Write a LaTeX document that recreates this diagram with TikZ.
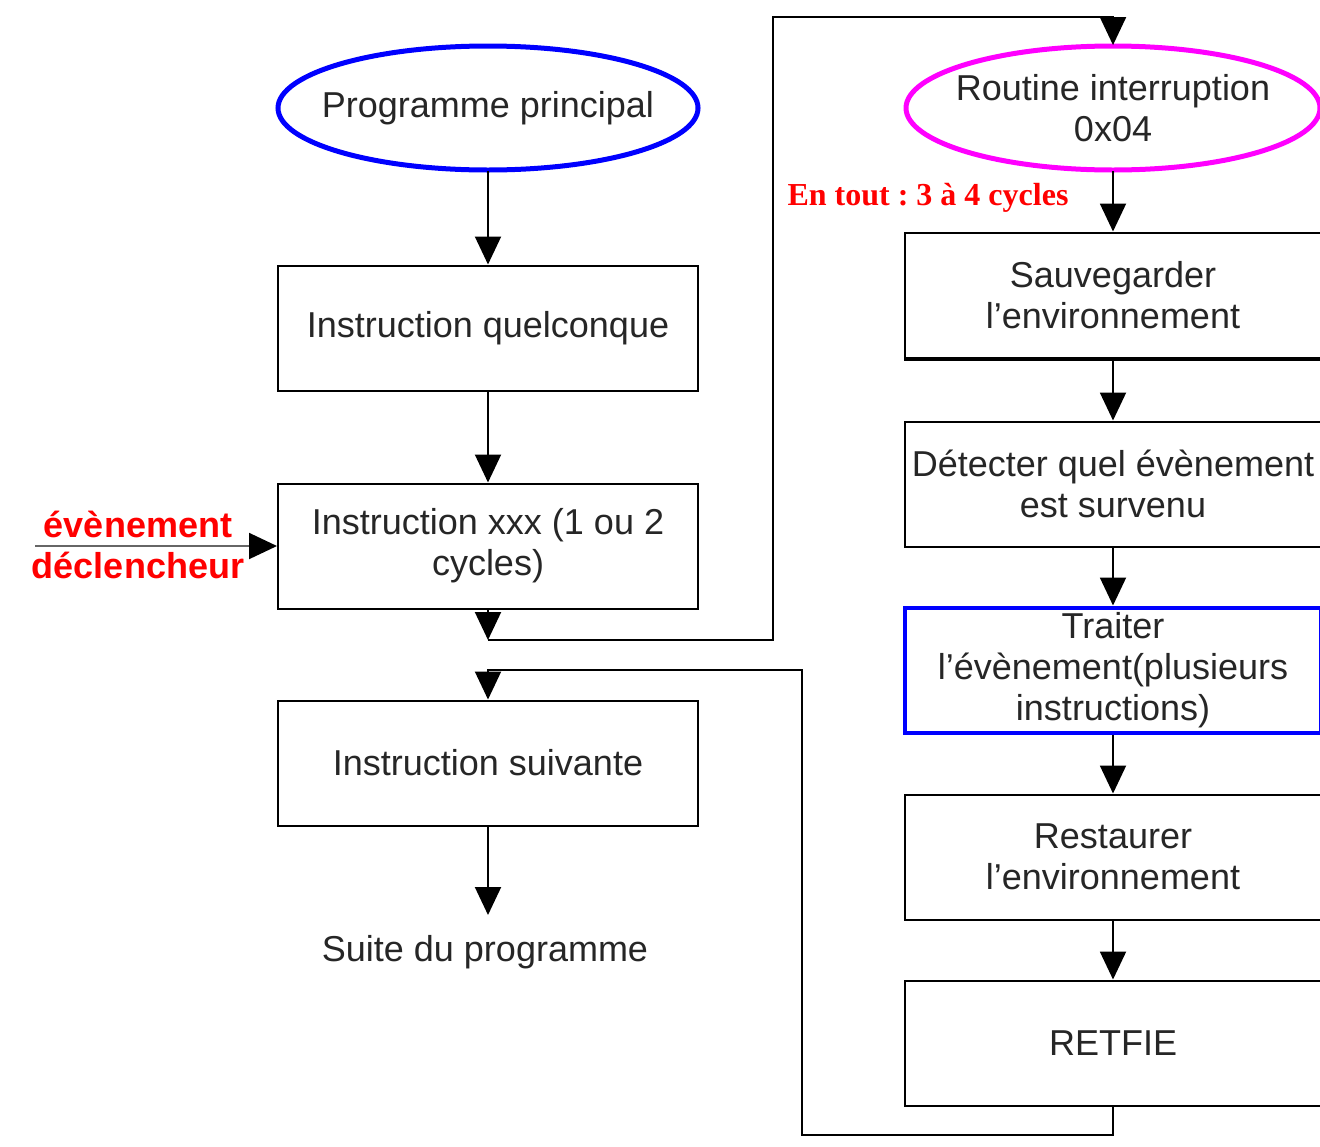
\documentclass[tikz,border=0pt]{standalone}
\usepackage{fontspec}
\setmainfont{Liberation Sans}
\newfontfamily\timesbold{Liberation Serif}
\usetikzlibrary{arrows.meta}
\definecolor{purplepink}{RGB}{255,0,255}

\begin{document}
\begin{tikzpicture}[x=0.5pt,y=-0.5pt,
  box/.style={rectangle,draw=black,line width=1pt,fill=white,minimum width=210pt,minimum height=62.5pt,align=center,inner sep=1pt,font=\fontsize{18}{20.5}\selectfont,text=black!85},
  wbox/.style={box,minimum width=208pt},
  oval/.style={rectangle,minimum width=207pt,minimum height=62.5pt,inner sep=0pt,align=center,font=\fontsize{18}{20.5}\selectfont,text=black!85},
  ring/.style={line width=2.5pt},
  redtxt/.style={text=red,font=\fontsize{18}{20}\selectfont\bfseries},
  arr/.style={-{Triangle[length=14pt,width=13pt,black]},line width=1pt}]
  \clip (0,0) rectangle (1320,1146);
  \fill[white] (0,0) rectangle (1320,1146);
  % programme principal
  \node (pp) at (488,108) [oval,minimum width=210pt] {Programme principal};
  \draw[ring,blue] (pp.center) ellipse [x radius=210,y radius=62];
  \node (i1) at (488,328) [box] {Instruction quelconque};
  \node (i2) at (488,546) [box] {Instruction xxx (1 ou 2\\cycles)};
  \node (i3) at (488,763) [box] {Instruction suivante};
  \node (suite) at (485,952) [font=\fontsize{18}{20}\selectfont,text=black!85] {Suite du programme};
  \coordinate (c1) at (488,640);
  \coordinate (c2) at (488,915);
  % routine d'interruption
  \node (ri) at (1113,108) [oval] {Routine interruption\\0x04};
  \draw[ring,purplepink] (ri.center) ellipse [x radius=207,y radius=62];
  \node (s1) at (1113,295) [wbox] {Sauvegarder\\l'environnement};
  \node (s2) at (1113,484) [wbox] {Détecter quel évènement\\est survenu};
  \node (s3) at (1113,670) [wbox,draw=blue,line width=2pt] {Traiter\\l'évènement(plusieurs\\instructions)};
  \node (s4) at (1113,857) [wbox] {Restaurer\\l'environnement};
  \node (s5) at (1113,1043) [wbox] {RETFIE};
  \draw[line width=2pt] (s1.south west) -- (s1.south east);
  \node (tout) at (928,198) [text=red,font=\fontsize{16}{18}\selectfont\timesbold\bfseries\frenchspacing] {En tout : 3 à 4 cycles};
  % evenement
  \node (ev) at (138,524) [redtxt] {évènement};
  \node (dec) at (138,565) [redtxt] {déclencheur};
  \coordinate (t0) at (35,546);
  \coordinate (k1) at (773,17);
  \coordinate (k2) at (802,1135);
  \coordinate (k3) at (488,670);

  \draw[arr] (pp) -- (i1);
  \draw[arr] (i1) -- (i2);
  \draw[arr] (i2) -- (c1);
  \draw[arr] (c1) -| (k1) -| (ri.north);
  \draw[arr] (ri) -- (s1);
  \draw[arr] (s1) -- (s2);
  \draw[arr] (s2) -- (s3);
  \draw[arr] (s3) -- (s4);
  \draw[arr] (s4) -- (s5);
  \draw[arr] (s5.south) |- (k2) |- (k3) -- (i3.north);
  \draw[arr] (i3) -- (c2);
  \draw[arr,draw=black!60] (t0) -- (i2.west);
\end{tikzpicture}
\end{document}
